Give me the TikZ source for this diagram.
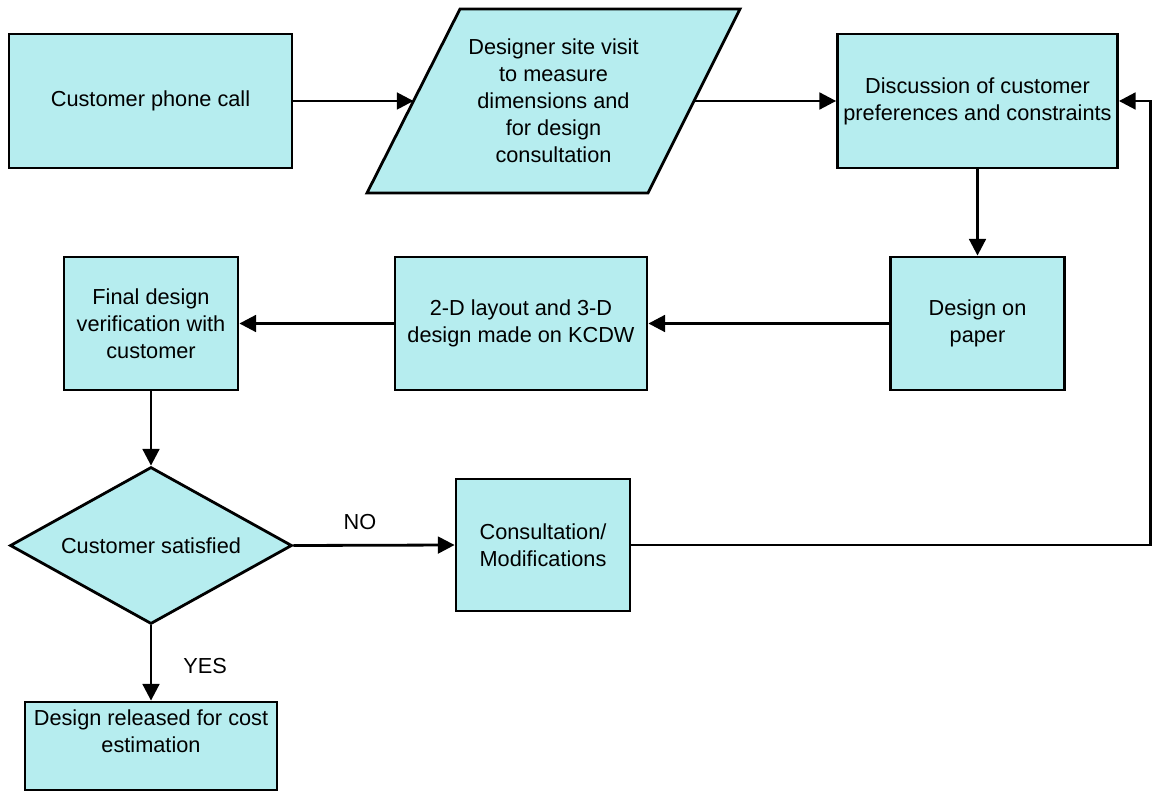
\documentclass[tikz,border=0pt]{standalone}
\usepackage{fontspec}
\setmainfont{Liberation Sans}
\usetikzlibrary{arrows.meta,shapes.geometric}
\definecolor{boxfill}{RGB}{182,237,239}
\begin{document}
\begin{tikzpicture}[x=0.75pt,y=-0.75pt,
  font=\fontsize{16.3pt}{20.25pt}\selectfont,
  flow/.style={draw=black, line width=2.1pt, fill=boxfill, inner sep=0pt, align=center},
  txt/.style={align=center, inner sep=0pt},
  conn/.style={line width=2.1pt, -{Triangle[length=12.5pt,width=12.5pt]}},
]
\useasboundingbox (0,0) rectangle (1152,791);

% top row
\node[flow, minimum width=212.25pt, minimum height=100.5pt] (call) at (150.5,101) {Customer phone call};
\draw[line width=2.1pt, fill=boxfill] (460,9) -- (740,9) -- (648,193) -- (367,193) -- cycle;
\coordinate (visitL) at (413.5,101);
\coordinate (visitR) at (694,101);
\node[txt] (visit) at (553.5,101) {Designer site visit\\to measure\\dimensions and\\for design\\consultation};
\node[flow, minimum width=210pt, minimum height=100.5pt] (disc) at (977.5,101) {Discussion of customer\\preferences and constraints};

% middle row
\node[flow, minimum width=130.5pt, minimum height=99.75pt] (paper) at (977.5,323.5) {Design on\\paper};
\node[flow, minimum width=189pt, minimum height=99.75pt] (layout) at (521,323.5) {2-D layout and 3-D\\design made on KCDW};
\node[flow, minimum width=130.5pt, minimum height=99.75pt] (final) at (151,323.5) {Final design\\verification with\\customer};

% decision row
\node[flow, diamond, aspect=1.8, minimum width=211.5pt, minimum height=117.75pt] (sat) at (151,545.5) {Customer satisfied};
\node[flow, minimum width=130.5pt, minimum height=99pt] (mod) at (543,545) {Consultation/\\Modifications};
\node[flow, minimum width=189pt, minimum height=66pt] (rel) at (151,746) {};
\node[txt] (relt) at (151,731.5) {Design released for cost\\estimation};

% labels
\node[txt] (no) at (360,522) {NO};
\node[txt] (yes) at (205,666) {YES};

% connectors
\draw[conn] (call.east) -- (visitL);
\draw[conn] (visitR) -- (disc.west);
\draw[conn] (disc.south) -- (paper.north);
\draw[conn] (paper.west) -- (layout.east);
\draw[conn] (layout.west) -- (final.east);
\draw[conn] (final.south) -- (sat.north);
\draw[conn] (sat.east) -- (mod.west);
\draw[conn] (sat.south) -- (rel.north);
\coordinate (loop) at (1150.5,545);
\draw[conn] (mod.east) -- (loop) |- (disc.east);
\end{tikzpicture}
\end{document}
